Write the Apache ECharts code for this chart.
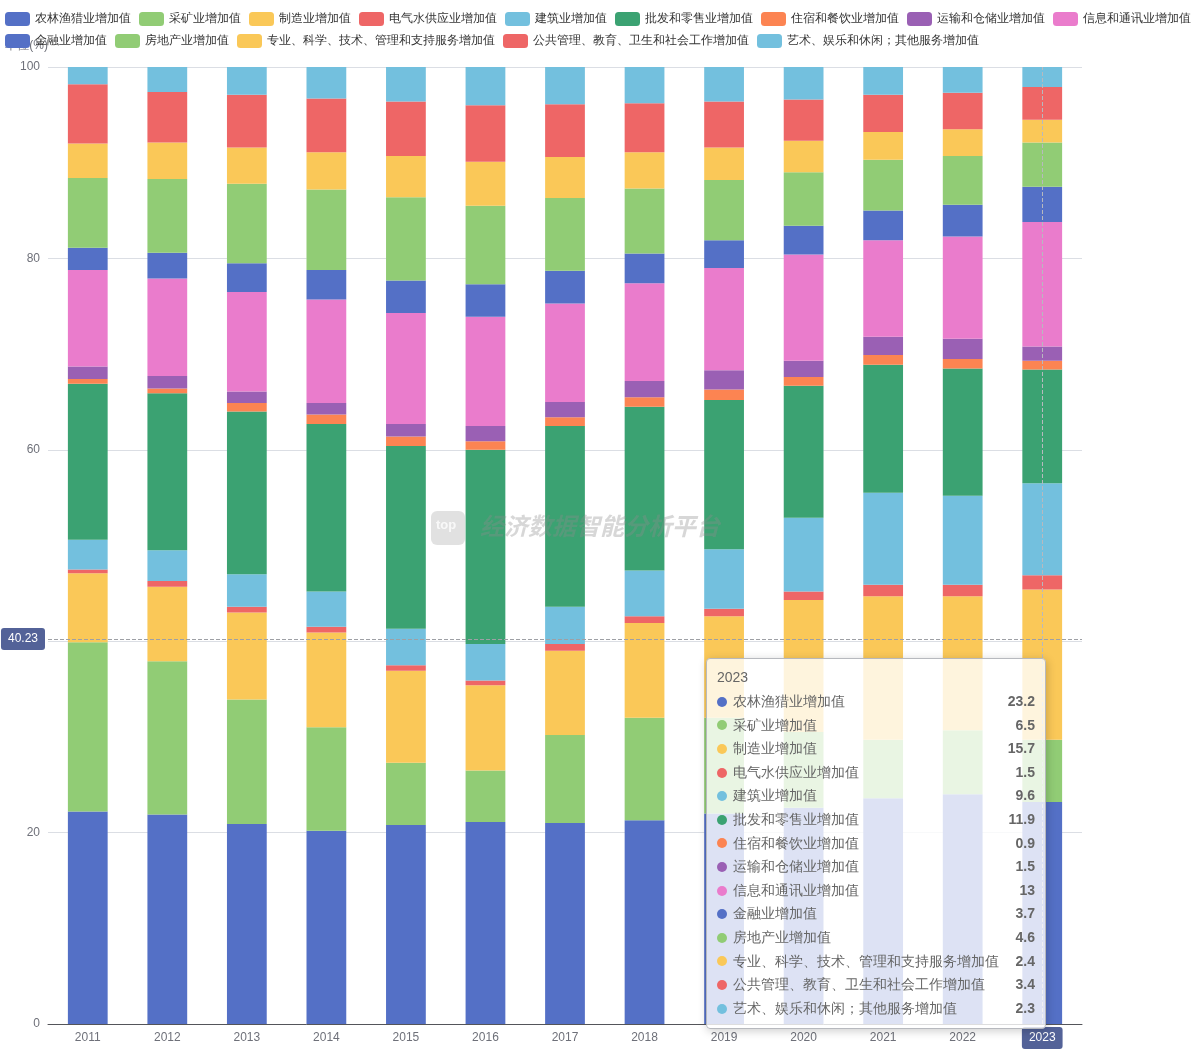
<!DOCTYPE html>
<html><head><meta charset="utf-8">
<script src="https://cdn.jsdelivr.net/npm/echarts@6/dist/echarts.min.js"></script>
<style>html,body{margin:0;padding:0;background:#fff}#c{width:1192px;height:1059px}</style>
</head><body><div id="c"></div>
<script>
const years = ['2011','2012','2013','2014','2015','2016','2017','2018','2019','2020','2021','2022','2023'];
const names = ['农林渔猎业增加值','采矿业增加值','制造业增加值','电气水供应业增加值','建筑业增加值','批发和零售业增加值','住宿和餐饮业增加值','运输和仓储业增加值','信息和通讯业增加值','金融业增加值','房地产业增加值','专业、科学、技术、管理和支持服务增加值','公共管理、教育、卫生和社会工作增加值','艺术、娱乐和休闲；其他服务增加值'];
const agri      = [22.2,21.9,20.9,20.2,20.8,21.1,21.0,21.3,22.0,22.6,23.6,24.0,23.2];
const mining    = [17.7,16.0,13.0,10.8,6.5,5.4,9.2,10.7,10.0,7.9,6.1,6.7,6.5];
const manuf     = [7.2,7.8,9.1,9.9,9.6,8.9,8.8,9.9,10.6,13.8,15.0,14.0,15.7];
const utility   = [0.4,0.6,0.6,0.6,0.6,0.5,0.7,0.7,0.8,0.9,1.2,1.2,1.5];
const constr    = [3.1,3.2,3.4,3.7,3.8,3.8,3.9,4.8,6.2,7.7,9.6,9.3,9.6];
const trade     = [16.3,16.4,17.0,17.5,19.1,20.3,18.9,17.1,15.6,13.8,13.4,13.3,11.9];
const hotel     = [0.5,0.5,0.9,1.0,1.0,0.9,0.9,1.0,1.1,0.9,1.0,1.0,0.9];
const transport = [1.3,1.3,1.2,1.2,1.3,1.6,1.6,1.7,2.0,1.7,1.9,2.1,1.5];
const ict       = [10.1,10.2,10.4,10.8,11.6,11.4,10.3,10.2,10.7,11.1,10.1,10.7,13];
const finance   = [2.3,2.7,3.0,3.1,3.4,3.4,3.4,3.1,2.9,3.0,3.1,3.3,3.7];
const realty    = [7.3,7.7,8.3,8.4,8.7,8.2,7.6,6.8,6.3,5.6,5.3,5.1,4.6];
const prof      = [3.6,3.8,3.8,3.9,4.3,4.6,4.3,3.8,3.4,3.3,2.9,2.8,2.4];
const publicSvc = [6.2,5.3,5.5,5.6,5.7,5.9,5.5,5.1,4.8,4.3,3.9,3.8,3.4];
const arts      = [1.8,2.6,2.9,3.3,3.6,4.0,3.9,3.8,3.6,3.4,2.9,2.7,2.3];
const seriesData = [agri,mining,manuf,utility,constr,trade,hotel,transport,ict,finance,realty,prof,publicSvc,arts];

const chart = echarts.init(document.getElementById('c'));
chart.setOption({
  animation:false,
  color:['#5470c6','#91cc75','#fac858','#ee6666','#73c0de','#3ba272','#fc8452','#9a60b4','#ea7ccc'],
  legend:{top:7,left:0,padding:[5,0,5,5],itemWidth:25,itemHeight:14,itemGap:8,textStyle:{fontSize:12,color:'#333'},data:names},
  grid:{left:48,right:110,top:67,bottom:35},
  tooltip:{trigger:'axis',axisPointer:{type:'cross'},position:[706,658],padding:[8,10],
    backgroundColor:'rgba(255,255,255,0.8)',
    formatter:function(ps){
      let h='<div style="font-size:14px;color:#666;line-height:20px;margin-bottom:3px">'+ps[0].axisValue+'</div>';
      ps.forEach(p=>{h+='<div style="display:flex;align-items:center;font-size:14px;line-height:23.6px;color:#666;width:318px">'+
        '<span style="display:inline-block;width:10px;height:10px;border-radius:5px;background:'+p.color+';margin-right:6px"></span>'+
        '<span style="flex:1">'+p.seriesName+'</span><span style="font-weight:bold;color:#666">'+p.value+'</span></div>';});
      return h;}},
  xAxis:{type:'category',data:years,axisLabel:{color:'#6e7079'}},
  yAxis:{type:'value',min:0,max:100,interval:20,name:'单位(%)',nameTextStyle:{color:'#6e7079',align:'right'},
    axisLabel:{color:'#6e7079'}},
  graphic:[{type:'text',left:480,top:514,z:100,style:{text:'经济数据智能分析平台',font:'italic bold 24px "Noto Sans CJK SC"',fill:'rgba(140,140,140,0.35)'}},
    {type:'rect',left:431,top:511,z:100,shape:{width:34,height:34,r:6},style:{fill:'rgba(170,170,170,0.35)'}},
    {type:'text',left:436,top:519,z:101,style:{text:'top',font:'bold 13px sans-serif',fill:'rgba(255,255,255,0.8)'}}],
  series:seriesData.map((d,i)=>({name:names[i],type:'bar',stack:'total',barWidth:'50%',emphasis:{disabled:true},data:d}))
});
setTimeout(()=>chart.dispatchAction({type:'showTip',x:1042,y:639}),50);
</script></body></html>
